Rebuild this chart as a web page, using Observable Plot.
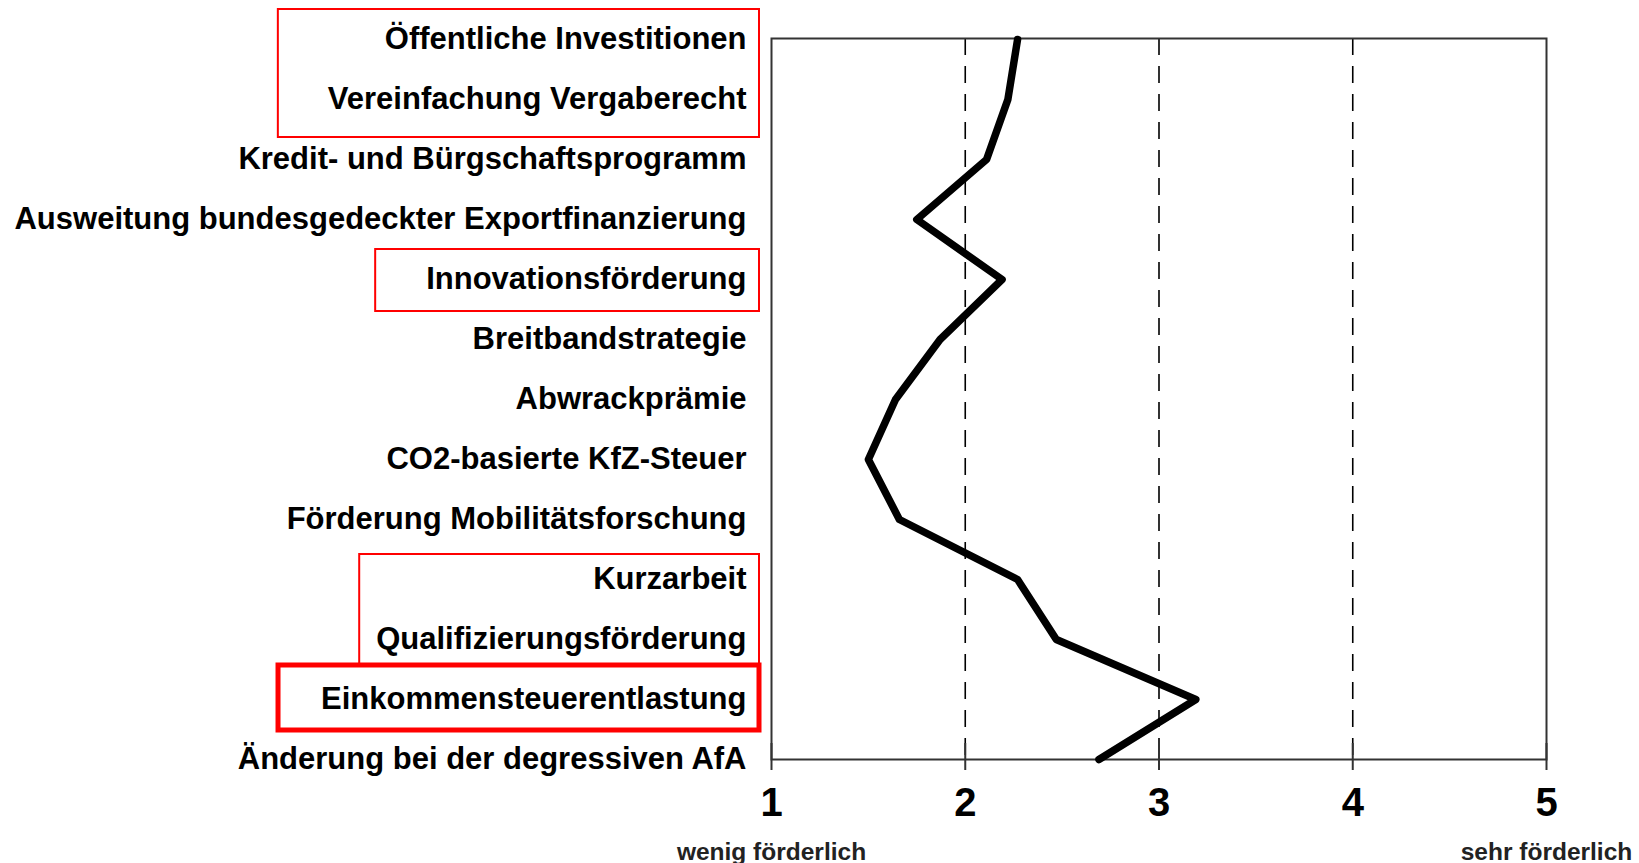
<!DOCTYPE html>
<html>
<head>
<meta charset="utf-8">
<script src="https://cdn.jsdelivr.net/npm/d3@7"></script>
<script src="https://cdn.jsdelivr.net/npm/@observablehq/plot@0.6"></script>
<style>
  html, body { margin: 0; padding: 0; background: #fff; }
  #chart svg { display: block; }
</style>
</head>
<body>
<div id="chart"></div>
<script>
// ---- data ----
const categories = [
  "Öffentliche Investitionen",
  "Vereinfachung Vergaberecht",
  "Kredit- und Bürgschaftsprogramm",
  "Ausweitung bundesgedeckter Exportfinanzierung",
  "Innovationsförderung",
  "Breitbandstrategie",
  "Abwrackprämie",
  "CO2-basierte KfZ-Steuer",
  "Förderung Mobilitätsforschung",
  "Kurzarbeit",
  "Qualifizierungsförderung",
  "Einkommensteuerentlastung",
  "Änderung bei der degressiven AfA"
];
const values = [2.27, 2.22, 2.11, 1.75, 2.19, 1.87, 1.64, 1.50, 1.66, 2.27, 2.47, 3.19, 2.69];
const xTicks = [1, 2, 3, 4, 5];
const gridTicks = [2, 3, 4];
const endLabels = ["wenig förderlich", "sehr förderlich"];
const endLabelPositions = [1, 5];
// highlighted groups (red boxes)
const highlightGroups = [
  ["Öffentliche Investitionen", "Vereinfachung Vergaberecht"],
  ["Innovationsförderung"],
  ["Kurzarbeit", "Qualifizierungsförderung"],
  ["Einkommensteuerentlastung"]
];

// ---- layout / style ----
const W = 1639, H = 863;
const mTop = 38, mBottom = 104, mLeft = 771, mRight = 93;
const font = "'Liberation Sans', Arial, Helvetica, sans-serif";
const boxStyles = [
  {padLeft: 50, top: 30, bottom: 38, width: 2},
  {padLeft: 51, top: 30, bottom: 32, width: 2},
  {padLeft: 17, top: 25, bottom: 26, width: 2},
  {padLeft: 43, top: 34, bottom: 31, width: 5}
];

const data = categories.map((c, i) => ({category: c, value: values[i]}));
const endData = endLabels.map((t, i) => ({label: t, x: endLabelPositions[i]}));
const frameH = H - mTop - mBottom;

const plot = Plot.plot({
  width: W,
  height: H,
  marginTop: mTop,
  marginBottom: mBottom,
  marginLeft: mLeft,
  marginRight: mRight,
  style: {fontFamily: font, background: "#fff", color: "#000"},
  x: {domain: [1, 5], ticks: xTicks, tickFormat: d => String(d)},
  y: {domain: categories, padding: 0},
  marks: [
    Plot.ruleX(gridTicks, {stroke: "#000", strokeWidth: 1.6, strokeDasharray: "17,11"}),
    Plot.ruleX(xTicks, {stroke: "#333", strokeWidth: 2, insetTop: frameH - 16}),
    Plot.frame({stroke: "#333", strokeWidth: 2}),
    Plot.axisX({ticks: xTicks, tickFormat: d => String(d), tickSize: 11, tickPadding: 17,
      fontSize: 40, fontWeight: "bold", stroke: "#333", strokeWidth: 2, label: null}),
    Plot.axisY({tickSize: 0, tickPadding: 25, fontSize: 31, fontWeight: "bold", label: null}),
    Plot.text(endData, {x: "x", text: "label", frameAnchor: "bottom", dy: 100,
      fontSize: 24.5, fontWeight: "bold", fill: "#222", textAnchor: "middle"}),
    Plot.line(data, {x: "value", y: "category", stroke: "#000", strokeWidth: 7.5,
      strokeLinejoin: "round", strokeLinecap: "round"})
  ]
});
document.getElementById("chart").appendChild(plot);

// ---- red highlight boxes, positioned from the y scale and the rendered tick labels ----
const yScale = plot.scale("y");
const svgRect = plot.getBoundingClientRect();
const labelEls = Array.from(plot.querySelectorAll('g[aria-label="y-axis tick label"] text'));
const labelLeft = {};
labelEls.forEach(el => {
  const r = el.getBoundingClientRect();
  labelLeft[el.textContent] = r.left - svgRect.left;
});
const ns = "http://www.w3.org/2000/svg";
const gBoxes = document.createElementNS(ns, "g");
gBoxes.setAttribute("aria-label", "highlight boxes");
const rightEdge = mLeft - 12;
highlightGroups.forEach((grp, i) => {
  const s = boxStyles[i];
  const left = Math.min(...grp.map(c => labelLeft[c])) - s.padLeft;
  const top = yScale.apply(grp[0]) - s.top;
  const bottom = yScale.apply(grp[grp.length - 1]) + s.bottom;
  const r = document.createElementNS(ns, "rect");
  r.setAttribute("x", left);
  r.setAttribute("y", top);
  r.setAttribute("width", rightEdge - left);
  r.setAttribute("height", bottom - top);
  r.setAttribute("fill", "none");
  r.setAttribute("stroke", "#ff0000");
  r.setAttribute("stroke-width", s.width);
  gBoxes.appendChild(r);
});
plot.appendChild(gBoxes);
</script>
</body>
</html>
